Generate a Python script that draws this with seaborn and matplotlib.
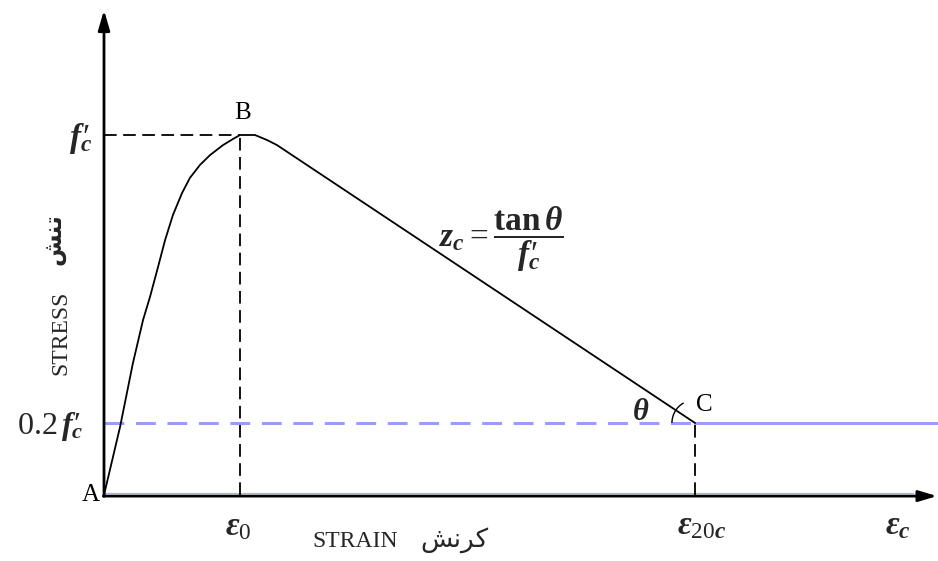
import matplotlib
matplotlib.use("Agg")
import matplotlib.pyplot as plt
from matplotlib.patches import Arc
import numpy as np
import seaborn as sns

# Idealised concrete stress-strain curve (strain in units of eps0, stress in units of f'c)
strain_rise = [0.0, 0.118, 0.213, 0.287, 0.338, 0.397, 0.449, 0.507, 0.574, 0.632,
               0.706, 0.779, 0.875, 0.949, 1.0]
stress_rise = [0.0, 0.189, 0.367, 0.486, 0.550, 0.633, 0.708, 0.778, 0.839, 0.881,
               0.917, 0.944, 0.972, 0.989, 1.0]
strain_fall = [1.110, 1.199, 1.272, 4.346]
stress_fall = [1.0, 0.986, 0.972, 0.2]

eps0 = 1.0
eps20c = 4.346
fc = 1.0
residual = 0.2

strain = strain_rise + strain_fall
stress = stress_rise + stress_fall

sns.set_style("white")
plt.rcParams["font.family"] = ["Liberation Serif", "DejaVu Sans"]
plt.rcParams["mathtext.fontset"] = "custom"
plt.rcParams["mathtext.rm"] = "Liberation Serif"
plt.rcParams["mathtext.it"] = "Liberation Serif:italic:bold"
plt.rcParams["mathtext.bf"] = "Liberation Serif:bold"
plt.rcParams["mathtext.fallback"] = "stix"

fig = plt.figure(figsize=(9.38, 5.61), dpi=100)
ax = fig.add_axes([0, 0, 1, 1])
ax.set_xlim(-104 / 136, (938 - 104) / 136)
ax.set_ylim(-(561 - 495) / 360, 495 / 360)
ax.axis("off")

blue = "#9a9aff"
x_end = 6.13

# residual-strength level: dashed up to C, solid beyond
ax.plot([0, eps20c], [residual, residual], color=blue, lw=2.2,
        linestyle=(0, (6.5, 3.8)), zorder=2)
ax.plot([eps20c, x_end], [residual, residual], color=blue, lw=2.2, zorder=2)
ax.plot([0, 5.95], [0.006, 0.006], color=blue, lw=0.9, alpha=0.8, zorder=2)

# reference dashed lines
dash = (0, (7.0, 3.6))
ax.plot([0, eps0], [fc, fc], color="black", lw=1.3, linestyle=dash, zorder=3)
ax.plot([eps0, eps0], [0, fc], color="black", lw=1.3, linestyle=dash, zorder=3)
ax.plot([eps20c, eps20c], [0, residual], color="black", lw=1.3, linestyle=dash, zorder=3)

# stress-strain curve
sns.lineplot(x=strain, y=stress, sort=False, estimator=None, color="black",
             lw=1.3, ax=ax, zorder=4)

# axes with arrows
ax.annotate("", xy=(0, 1.347), xytext=(0, -0.004),
            arrowprops=dict(arrowstyle="-|>,head_length=1.2,head_width=0.35",
                            color="black", lw=2.0, shrinkA=0, shrinkB=0), zorder=5)
ax.annotate("", xy=(6.125, -0.003), xytext=(-0.005, -0.003),
            arrowprops=dict(arrowstyle="-|>,head_length=1.1,head_width=0.33",
                            color="black", lw=2.0, shrinkA=0, shrinkB=0), zorder=5)

# angle arc at C
r = 0.17
ang = np.degrees(np.arctan2((stress_fall[2] - residual) * 360, (eps20c - strain_fall[2]) * 136))
ax.add_patch(Arc((eps20c, residual), 2 * r, 2 * r * 136 / 360, theta1=180 - ang, theta2=180,
                 color="black", lw=1.0, zorder=4))

# point labels
tx = dict(fontsize=18, color="black")
ax.text(eps0 + 0.02, fc + 0.06, "B", ha="center", va="center", **tx)
ax.text(-0.03, 0.0, "A", ha="right", va="center", **tx)
ax.text(eps20c + 0.07, residual + 0.05, "C", ha="center", va="center", **tx)
ax.text(eps20c - 0.40, residual + 0.03, r"$\theta$", ha="center", va="center", fontsize=22)

# y-axis tick labels
ax.text(-0.09, fc - 0.01, r"$f_{c}\hspace{-0.35}\prime$", ha="right", va="center", fontsize=24)
ax.text(-0.15, residual - 0.01, r"$\mathregular{0.2}\,f_{c}\hspace{-0.35}\prime$",
        ha="right", va="center", fontsize=23)

# x-axis tick labels
ax.text(eps0 - 0.01, -0.09, r"$\epsilon_{0}$", ha="center", va="center", fontsize=24)
ax.text(eps20c + 0.05, -0.085, r"$\epsilon_{\mathregular{20}c}$", ha="center", va="center", fontsize=24)
ax.text(5.84, -0.085, r"$\epsilon_{c}$", ha="center", va="center", fontsize=24)

# axis titles (English and Persian)
ax.text(-0.32, 0.45, "STRESS", rotation=90, ha="center", va="center", fontsize=17)
ax.text(-0.37, 0.71, "\uFEB6\uFEE8\uFE97", rotation=90, ha="center", va="center",
        fontsize=17, fontweight="bold", family=["DejaVu Sans"])
ax.text(1.85, -0.13, "STRAIN", ha="center", va="center", fontsize=17)
ax.text(2.58, -0.125, "\uFEB6\uFEE7\uFEAE\uFB90", ha="center", va="center",
        fontsize=19, family=["DejaVu Sans"])

# slope definition
ax.text(2.92, 0.71, r"$z_{c}=\dfrac{\mathbf{tan}\,\theta}{f_{c}\hspace{-0.35}\prime}$",
        ha="center", va="center", fontsize=24)

fig.savefig("out.png", dpi=100)
